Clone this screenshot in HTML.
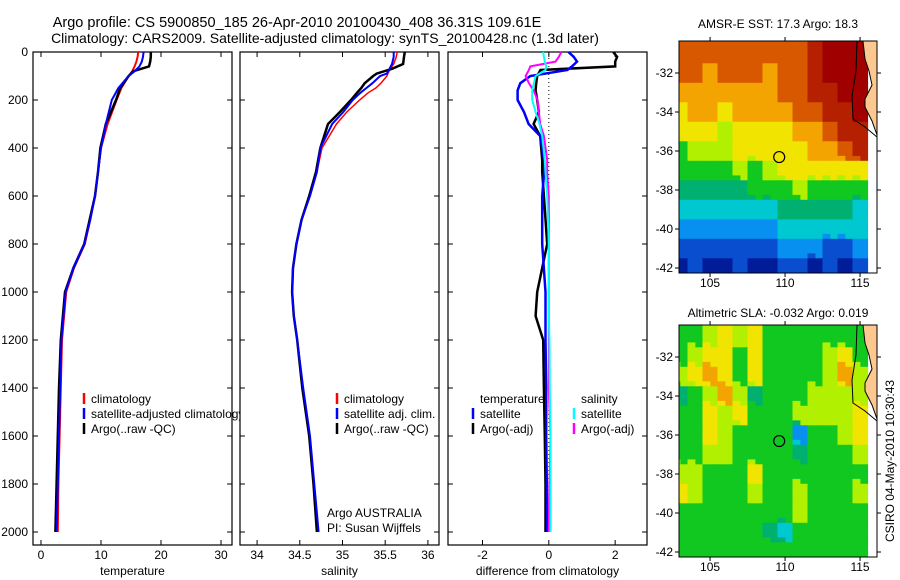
<!DOCTYPE html>
<html><head><meta charset="utf-8">
<style>
html,body{margin:0;padding:0;background:#fff;}
svg{display:block;font-family:"Liberation Sans",sans-serif;}
text{fill:#000;}
</style></head>
<body>
<svg id="fig" width="900" height="580" viewBox="0 0 900 580">
<text x="297" y="27" font-size="14.5" text-anchor="middle">Argo profile: CS 5900850_185 26-Apr-2010 20100430_408 36.31S 109.61E</text>
<text x="325" y="43" font-size="14" text-anchor="middle">Climatology: CARS2009. Satellite-adjusted climatology: synTS_20100428.nc (1.3d later)</text>
<text x="778" y="28" font-size="12" text-anchor="middle">AMSR-E SST: 17.3 Argo: 18.3</text>
<text x="778" y="317" font-size="12" text-anchor="middle">Altimetric SLA: -0.032 Argo: 0.019</text>
<text transform="translate(894,461) rotate(-90)" font-size="12" text-anchor="middle">CSIRO 04-May-2010 10:30:43</text>
<g id="g"></g>
</svg>
<script>
// ---- profile data ----
const tempDepth = [0,20,40,60,80,100,150,200,300,400,500,600,700,800,900,1000,1200,1400,1600,1800,2000];
const tempClim  = [16.2,16.1,15.9,15.6,15.2,14.6,13.4,12.6,11.1,10.0,9.5,9.0,8.2,7.3,5.5,4.2,3.5,3.3,3.1,2.9,2.8];
const tempSat   = [17.1,17.0,16.8,16.4,15.6,14.6,12.9,11.8,10.8,10.0,9.5,9.0,8.2,7.2,5.4,4.1,3.4,3.2,3.0,2.8,2.6];
const tempArgo  = [18.3,18.3,18.2,18.0,15.4,14.6,13.2,12.5,10.8,9.9,9.5,9.0,8.1,7.2,5.4,4.0,3.3,3.0,2.8,2.6,2.4];

const salDepth = [0,20,50,70,90,100,130,150,170,200,250,300,400,500,600,700,800,900,1000,1100,1200,1400,1600,1800,2000];
const salClim  = [35.64,35.63,35.6,35.56,35.53,35.52,35.45,35.39,35.3,35.2,35.05,34.93,34.76,34.7,34.62,34.52,34.46,34.42,34.41,34.43,34.47,34.53,34.61,34.66,34.7];
const salSat   = [35.6,35.6,35.58,35.55,35.52,35.44,35.35,35.28,35.21,35.12,35.01,34.88,34.74,34.7,34.62,34.52,34.46,34.42,34.41,34.43,34.47,34.54,34.62,34.67,34.72];
const salArgo  = [35.73,35.72,35.71,35.58,35.4,35.36,35.26,35.22,35.17,35.1,34.97,34.83,34.74,34.69,34.61,34.52,34.46,34.42,34.41,34.43,34.47,34.53,34.61,34.66,34.7];

const diffDepth = [0,20,40,60,75,100,130,160,200,250,300,350,450,500,600,800,1000,1100,1200,1400,1600,1800,2000];
const diffTArgo = [1.94,2.06,2.0,2.0,-0.25,-0.35,-0.38,-0.4,-0.35,-0.3,-0.46,-0.26,-0.2,-0.2,-0.15,-0.05,-0.35,-0.4,-0.17,-0.15,-0.12,-0.1,-0.1];
const diffTSat  = [0.59,0.75,0.85,0.7,0.56,-0.56,-0.86,-0.94,-0.94,-0.75,-0.61,-0.26,-0.14,-0.14,-0.2,-0.2,-0.1,-0.1,-0.1,-0.08,-0.08,-0.06,-0.05];
const diffSSat  = [-0.17,-0.15,-0.12,-0.08,-0.1,-0.4,-0.45,-0.5,-0.5,-0.4,-0.28,-0.2,-0.12,-0.1,-0.05,0,0,0,0.02,0.03,0.05,0.05,0.05];
const diffSArgo = [0.38,0.3,0.2,-0.56,-0.6,-0.7,-0.6,-0.46,-0.34,-0.3,-0.26,-0.15,-0.05,-0.05,0,0,0,0,0,0,0.05,0.02,0];

const depthTicks = [0,200,400,600,800,1000,1200,1400,1600,1800,2000];
const tempTicks = [0,10,20,30];
const salTicks = [34,34.5,35,35.5,36];
const salTickLabels = ["34","34.5","35","35.5","36"];
const diffTicks = [-2,0,2];

// ---- map data (1-degree cells, lon 103..115, lat -31..-42) ----
const mapLons = [103,104,105,106,107,108,109,110,111,112,113,114,115];
const mapLats = [-31,-32,-33,-34,-35,-36,-37,-38,-39,-40,-41,-42];
const sstGrid = [
[9,9,9,9,9,9,9,9,9,10,11,11,11],
[9,9,8,9,9,9,8,9,9,10,11,11,11],
[8,8,8,8,8,8,8,9,9,10,10,11,11],
[7,8,8,7,8,8,8,8,9,9,10,10,11],
[7,7,7,6,7,7,7,7,8,8,9,10,10],
[5,6,6,6,7,7,7,7,7,8,8,9,10],
[5,5,5,5,6,5,6,7,7,7,7,7,7],
[4,4,4,4,4,5,5,5,6,5,5,5,5],
[3,3,3,3,3,3,3,4,4,4,4,4,3],
[2,2,2,2,2,2,2,3,3,3,3,3,3],
[1,1,1,1,1,1,1,2,2,2,1,1,2],
[0,1,0,0,1,0,0,1,1,0,1,0,1]];
const slaGrid = [
[5,5,6,7,6,7,5,5,5,5,5,5,5],
[5,6,7,7,5,7,5,5,5,5,6,7,5],
[6,7,8,7,5,7,5,5,5,5,6,8,6],
[4,5,6,8,6,4,5,5,5,6,6,6,6],
[5,5,7,6,7,5,5,5,6,6,6,6,7],
[5,5,7,6,5,5,5,5,2,5,5,6,7],
[5,5,6,6,5,5,5,5,4,5,5,5,6],
[6,6,5,5,5,7,5,5,5,5,5,5,5],
[7,6,5,5,5,6,5,5,6,5,5,5,6],
[5,5,5,5,5,5,5,5,6,5,5,5,5],
[5,5,5,5,5,5,4,3,5,5,5,5,5],
[5,5,5,5,5,5,5,5,5,5,5,5,5]];
const latTicks = [-32,-34,-36,-38,-40,-42];
const lonTicks = [105,110,115];
const argoLon = 109.61, argoLat = -36.31;

const palette = ["#001c98","#0a4ed0","#0890f0","#00c8d0","#00b070","#10c820","#b0f000","#f0e400","#f4a400","#d85800","#b42000","#a00000"];

const NS="http://www.w3.org/2000/svg";
const G=document.getElementById('g');
function el(tag,attrs,parent){const e=document.createElementNS(NS,tag);for(const k in attrs)e.setAttribute(k,attrs[k]);(parent||G).appendChild(e);return e;}
function txt(x,y,s,anchor,parent,size){const t=el('text',{x:x,y:y,'font-size':size||12,'text-anchor':anchor||'start'},parent);t.textContent=s;return t;}

const TOP=52, BOT=545, DSCALE=0.24;
const yD = d => TOP + d*DSCALE;

function panel(name,x0,x1,xmin,xmax,ticks,tickLabels,xlabel,showY){
  const g=el('g',{});
  
  
  const xs = v => x0 + (v-xmin)/(xmax-xmin)*(x1-x0);
  el('rect',{x:x0,y:TOP,width:x1-x0,height:BOT-TOP,fill:'#fff',stroke:'#000','stroke-width':1.2},g);
  ticks.forEach((t,i)=>{const x=xs(t);
    el('line',{x1:x,y1:BOT,x2:x,y2:BOT-5,stroke:'#000'},g);
    el('line',{x1:x,y1:TOP,x2:x,y2:TOP+5,stroke:'#000'},g);
    const tl=txt(x,559,tickLabels[i],'middle',g);
    
    
  });
  depthTicks.forEach(d=>{const y=yD(d);
    el('line',{x1:x0,y1:y,x2:x0+5,y2:y,stroke:'#000'},g);
    el('line',{x1:x1,y1:y,x2:x1-5,y2:y,stroke:'#000'},g);
    if(showY){const tl=txt(x0-5,y+4,String(d),'end',g);
      
      }
  });
  const xl=txt((x0+x1)/2,575,xlabel,'middle',g);
  
  
  return {g,xs};
}
function line(p,vals,depths,color,w,name){
  const pts=vals.map((v,i)=>p.xs(v).toFixed(1)+','+yD(depths[i]).toFixed(1)).join(' ');
  const l=el('polyline',{points:pts,fill:'none',stroke:color,'stroke-width':w,'stroke-linejoin':'miter'},p.g);
  
  
}
function legend(p,x,y,color,label){
  if(color) el('line',{x1:x,y1:y-10,x2:x,y2:y+1,stroke:color,'stroke-width':2.5},p.g);
  const t=txt(x+7,y,label,'start',p.g);
  
  
}

const p1=panel('temperature-panel',33,232,-1.33,31.83,tempTicks,tempTicks.map(String),'temperature',true);
line(p1,tempClim,tempDepth,'#f00',2,'temp-climatology-line');
line(p1,tempArgo,tempDepth,'#000',2.5,'temp-argo-line');
line(p1,tempSat,tempDepth,'#00f',2,'temp-satellite-line');
legend(p1,84,403,'#f00','climatology');
legend(p1,84,418,'#00f','satellite-adjusted climatology');
legend(p1,84,433,'#000','Argo(..raw -QC)');

const p2=panel('salinity-panel',240,439,33.8,36.13,salTicks,salTickLabels,'salinity',false);
line(p2,salClim,salDepth,'#f00',1.5,'sal-climatology-line');
line(p2,salArgo,salDepth,'#000',2.5,'sal-argo-line');
line(p2,salSat,salDepth,'#00f',2,'sal-satellite-line');
legend(p2,337,403,'#f00','climatology');
legend(p2,337,418,'#00f','satellite adj. clim.');
legend(p2,337,433,'#000','Argo(..raw -QC)');
txt(327,517,'Argo AUSTRALIA','start',p2.g);
txt(327,532,'PI: Susan Wijffels','start',p2.g);

const p3=panel('difference-panel',448,647,-3.04,2.96,diffTicks,diffTicks.map(String),'difference from climatology',false);
el('line',{x1:p3.xs(0),y1:TOP+2,x2:p3.xs(0),y2:yD(2000),stroke:'#000','stroke-dasharray':'1,3'},p3.g);
line(p3,diffTArgo,diffDepth,'#000',2.5,'diff-temp-argo-line');
line(p3,diffTSat,diffDepth,'#00f',2.5,'diff-temp-satellite-line');
line(p3,diffSArgo,diffDepth,'#f0f',2,'diff-sal-argo-line');
line(p3,diffSSat,diffDepth,'#0ff',2,'diff-sal-satellite-line');
legend(p3,473,403,null,'temperature');
legend(p3,473,418,'#00f','satellite');
legend(p3,473,433,'#000','Argo(-adj)');
legend(p3,574,403,null,'salinity');
legend(p3,574,418,'#0ff','satellite');
legend(p3,574,433,'#f0f','Argo(-adj)');

// ---- maps ----
const MX0=679, MX1=877, LONMIN=102.93, LONSC=15, LATSC=19.5;
function map(name,y0,grid,id){
  const g=el('g',{});
  
  
  const y1=y0+232;
  const lat32=y0+32;
  const xs=lon=>MX0+(lon-LONMIN)*LONSC;
  const ys=lat=>lat32+(-32-lat)*LATSC;
  const cp=el('clipPath',{id:id},g);
  el('rect',{x:MX0,y:y0,width:MX1-MX0,height:y1-y0},cp);
  const cg=el('g',{'clip-path':'url(#'+id+')'},g);
  mapLats.forEach((lat,r)=>{mapLons.forEach((lon,c)=>{
    const top = r===0 ? ys(lat+1.5) : ys(lat+0.5);
    const cell=el('rect',{x:xs(lon-0.5).toFixed(1),y:top.toFixed(1),width:(LONSC+0.6).toFixed(1),height:(ys(lat-0.5)-top+0.6).toFixed(1),fill:palette[grid[r][c]]},cg);
    
    
    // half-cell blend toward the next row for a finer look
    if(r<mapLats.length-1){
      const nv=grid[r+1][c];
      if(nv!==grid[r][c]){
        const v=Math.round((grid[r][c]+nv)/2);
        const h=el('rect',{x:xs(lon-0.5).toFixed(1),y:ys(lat-0.25).toFixed(1),width:(LONSC*0.5+0.4).toFixed(1),height:(LATSC*0.25+0.4).toFixed(1),fill:palette[v]},cg);
        
        
      }
    }
  });});
  const land=el('path',{d:`M${MX1-14},${y0} L${MX1-12},${y0+18} L${MX1-8},${y0+30} L${MX1-5},${y0+44} L${MX1-12},${y0+58} L${MX1-12},${y0+66} L${MX1-5},${y0+80} L${MX1},${y0+94} L${MX1},${y0} Z`,fill:'#fdc890',stroke:'#000','stroke-width':1},cg);
  
  
  el('path',{d:`M${MX1-20},${y0} L${MX1-21},${y0+30} L${MX1-25},${y0+55} L${MX1-24},${y0+78} L${MX1-12},${y0+86} L${MX1},${y0+96}`,fill:'none',stroke:'#000','stroke-width':1},cg);
  el('rect',{x:MX0,y:y0,width:MX1-MX0,height:y1-y0,fill:'none',stroke:'#000','stroke-width':1},g);
  latTicks.forEach(lat=>{const y=ys(lat);
    el('line',{x1:MX0-4,y1:y,x2:MX0,y2:y,stroke:'#000'},g);
    el('line',{x1:MX1,y1:y,x2:MX1+4,y2:y,stroke:'#000'},g);
    txt(MX0-6,y+4,String(lat),'end',g,12);});
  lonTicks.forEach(lon=>{const x=xs(lon);
    el('line',{x1:x,y1:y1,x2:x,y2:y1+4,stroke:'#000'},g);
    el('line',{x1:x,y1:y0-4,x2:x,y2:y0,stroke:'#000'},g);
    txt(x,y1+14,String(lon),'middle',g,12);});
  const c=el('circle',{cx:xs(argoLon),cy:ys(argoLat),r:5.5,fill:'none',stroke:'#000','stroke-width':1.2},g);
  
  
}
map('sst-map',41,sstGrid,'clipSst');
map('sla-map',325,slaGrid,'clipSla');
</script>
</body></html>
